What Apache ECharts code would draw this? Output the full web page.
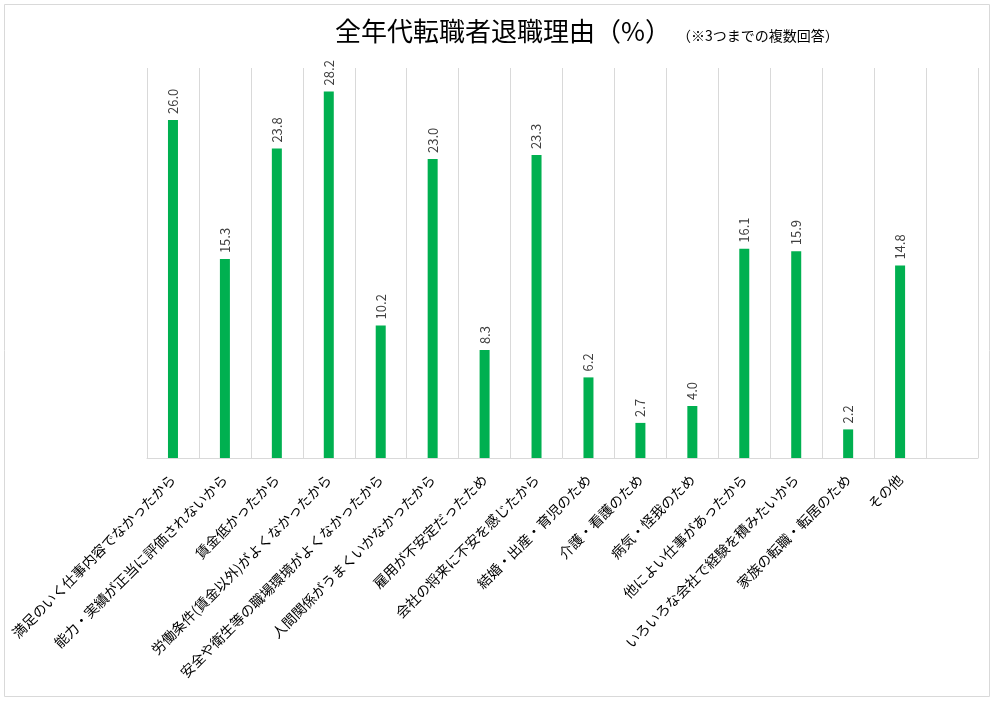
<!DOCTYPE html>
<html><head><meta charset="utf-8">
<script src="https://cdn.jsdelivr.net/npm/echarts@6/dist/echarts.min.js"></script>
<style>html,body{margin:0;padding:0;background:#fff}#c{width:996px;height:702px}</style>
</head><body><div id="c"></div>
<script>
const categories = ['満足のいく仕事内容でなかったから','能力・実績が正当に評価されないから','賃金低かったから','労働条件(賃金以外)がよくなかったから','安全や衛生等の職場環境がよくなかったから','人間関係がうまくいかなかったから','雇用が不安定だったため','会社の将来に不安を感じたから','結婚・出産・育児のため','介護・看護のため','病気・怪我のため','他によい仕事があったから','いろいろな会社で経験を積みたいから','家族の転職・転居のため','その他',''];
const values = [26.0, 15.3, 23.8, 28.2, 10.2, 23.0, 8.3, 23.3, 6.2, 2.7, 4.0, 16.1, 15.9, 2.2, 14.8, null];
const titleText = '全年代転職者退職理由（%）';
const subText = '（※3つまでの複数回答）';
const font = '"Noto Sans CJK JP", "Noto Sans", sans-serif';
const chart = echarts.init(document.getElementById('c'), null, {renderer:'canvas'});
chart.setOption({
  animation:false,
  textStyle:{fontFamily:font},
  title:[
    {text:titleText, left:330, top:13, textStyle:{fontFamily:font, fontSize:26, fontWeight:'normal', color:'#000'}},
    {text:subText, left:672, top:24, textStyle:{fontFamily:font, fontSize:14, fontWeight:'normal', color:'#000'}}
  ],
  graphic:[{type:'rect', shape:{x:4.5,y:4.5,width:985,height:692}, style:{fill:null, stroke:'#d9d9d9', lineWidth:1}, silent:true, z:-1}],
  grid:{left:147, right:18, top:68, bottom:244, containLabel:false},
  xAxis:{type:'category', data:categories,
    axisLine:{lineStyle:{color:'#d9d9d9'}}, axisTick:{show:false},
    splitLine:{show:true, lineStyle:{color:'#d9d9d9'}},
    axisLabel:{interval:0, rotate:45, fontSize:14, color:'#000', margin:19, fontFamily:font}},
  yAxis:{type:'value', min:0, max:30, show:false, splitLine:{show:false}},
  series:[{type:'bar', data:values, barWidth:10, itemStyle:{color:'#00b050'},
    label:{show:true, position:'top', rotate:90, align:'left', verticalAlign:'middle', distance:6,
      fontSize:13, color:'#404040', fontFamily:font, formatter:p=>p.value==null?'':p.value.toFixed(1)}}]
});
</script></body></html>
